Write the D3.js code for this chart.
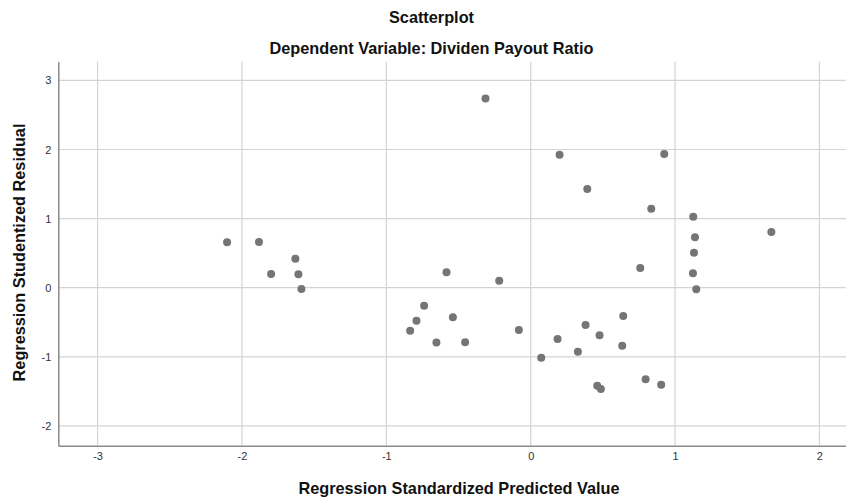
<!DOCTYPE html>
<html>
<head>
<meta charset="utf-8">
<script src="https://cdn.jsdelivr.net/npm/d3@7"></script>
<style>
  html, body { margin: 0; padding: 0; background: #fff; }
  svg { display: block; font-family: "Liberation Sans", Arial, sans-serif; }
</style>
</head>
<body>
<svg id="chart" width="846" height="498"></svg>
<script>
const title = "Scatterplot";
const subtitle = "Dependent Variable: Dividen Payout Ratio";
const xLabel = "Regression Standardized Predicted Value";
const yLabel = "Regression Studentized Residual";
const xTicks = [-3, -2, -1, 0, 1, 2];
const yTicks = [-2, -1, 0, 1, 2, 3];

const predicted = [
  -0.313, 0.200, 0.925, 0.392, 0.835, 1.126, 1.667, 1.138, 1.131, 0.759,
  1.124, 1.147, -0.583, -0.218, -0.738, -0.791, -0.835, -0.539, -0.653, -0.454,
  -0.082, 0.073, 0.186, 0.380, 0.477, 0.327, 0.641, 0.634, 0.461, 0.486,
  0.796, 0.904, -2.103, -1.882, -1.630, -1.798, -1.609, -1.588
];
const residual = [
  2.74, 1.925, 1.935, 1.428, 1.143, 1.028, 0.806, 0.729, 0.507, 0.285,
  0.208, -0.024, 0.222, 0.101, -0.260, -0.477, -0.622, -0.429, -0.795, -0.790,
  -0.612, -1.013, -0.742, -0.540, -0.689, -0.926, -0.410, -0.839, -1.418, -1.466,
  -1.326, -1.404, 0.657, 0.661, 0.420, 0.198, 0.194, -0.019
];

(function () {
const svg = d3.select("#chart");
const pLeft = 58.3, pRight = 846, pTop = 61.7, pBottom = 445.7;

const x = d3.scaleLinear().domain([-3.272, 2.184]).range([pLeft, pRight]);
const y = d3.scaleLinear().domain([-2.287, 3.271]).range([pBottom, pTop]);

// gridlines
const grid = svg.append("g");
grid.selectAll("line.v").data(xTicks).join("line").attr("class", "v")
  .attr("x1", d => x(d)).attr("x2", d => x(d))
  .attr("y1", pTop).attr("y2", pBottom)
  .attr("stroke", "#d4d4d4").attr("stroke-width", 1.2);
grid.selectAll("line.h").data(yTicks).join("line").attr("class", "h")
  .attr("x1", pLeft).attr("x2", pRight)
  .attr("y1", d => y(d)).attr("y2", d => y(d))
  .attr("stroke", "#d4d4d4").attr("stroke-width", 1.2);

const fmt = d => String(d);
// axes
const xAxis = svg.append("g").attr("transform", `translate(0,${pBottom})`)
  .call(d3.axisBottom(x).tickValues(xTicks).tickSize(0).tickPadding(7).tickFormat(fmt));
const yAxis = svg.append("g").attr("transform", `translate(${pLeft},0)`)
  .call(d3.axisLeft(y).tickValues(yTicks).tickSize(0).tickPadding(7).tickFormat(fmt));
[xAxis, yAxis].forEach(a => {
  a.select(".domain").attr("stroke", "#8a8a8a").attr("stroke-width", 1.5);
  a.selectAll("text").attr("fill", "#333").style("font-size", "11px")
    .style("font-family", '"Liberation Sans", Arial, sans-serif');
});

// points
svg.append("g").selectAll("circle").data(predicted.map((p, i) => [p, residual[i]])).join("circle")
  .attr("cx", d => x(d[0])).attr("cy", d => y(d[1])).attr("r", 4)
  .attr("fill", "#757575");

// titles
const fs = "16.3px";
svg.append("text").attr("x", 431.5).attr("y", 23).attr("text-anchor", "middle")
  .style("font-size", fs).style("font-weight", "bold").attr("fill", "#111").text(title);
svg.append("text").attr("x", 431.5).attr("y", 54).attr("text-anchor", "middle")
  .style("font-size", fs).style("font-weight", "bold").attr("fill", "#111").text(subtitle);
svg.append("text").attr("x", 459).attr("y", 494).attr("text-anchor", "middle")
  .style("font-size", fs).style("font-weight", "bold").attr("fill", "#111").text(xLabel);
svg.append("text").attr("transform", "translate(25,252.5) rotate(-90)").attr("text-anchor", "middle")
  .style("font-size", fs).style("font-weight", "bold").attr("fill", "#111").text(yLabel);
})();
</script>
</body>
</html>
